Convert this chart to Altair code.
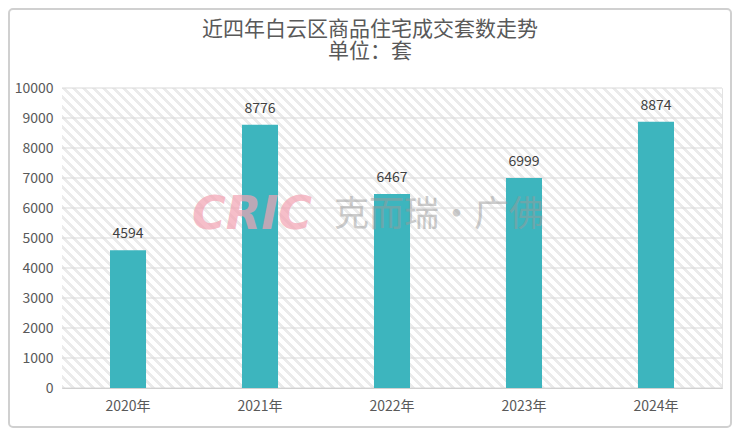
import altair as alt
import pandas as pd

years = ["2020年", "2021年", "2022年", "2023年", "2024年"]
deals = [4594, 8776, 6467, 6999, 8874]
y_ticks = [0, 1000, 2000, 3000, 4000, 5000, 6000, 7000, 8000, 9000, 10000]
title_lines = ["近四年白云区商品住宅成交套数走势", "单位：套"]
wm_logo = "CRIC"
wm_text = "克而瑞·广佛"

W, H = 660, 300
FONT = "Noto Sans CJK SC"

df = pd.DataFrame({"year": years, "deals": deals})
ticks_df = pd.DataFrame({"t": y_ticks})

# diagonal hatch background via hard-stop linear gradient
stops = []
period = 0.01041
n = int(1 / period) + 2
gray, white = "#ebebeb", "#ffffff"
for i in range(n):
    a = i * period
    b = a + period * 0.38
    c = a + period
    stops += [
        alt.GradientStop(offset=min(a, 1), color=gray),
        alt.GradientStop(offset=min(b, 1), color=gray),
        alt.GradientStop(offset=min(b, 1), color=white),
        alt.GradientStop(offset=min(c, 1), color=white),
    ]
grad = alt.LinearGradient(gradient="linear", stops=stops,
                          x1=0, y1=1, x2=1.2055, y2=0.452)

one = alt.Data(values=[{}])

hatch = alt.Chart(one).mark_rect(fill=grad).encode(
    x=alt.value(0), x2=alt.value(W), y=alt.value(0), y2=alt.value(H)
)

yscale = alt.Scale(domain=[0, 10000], nice=False)
yaxis = alt.Axis(values=y_ticks, grid=False, domain=False, ticks=False,
                 labelFont=FONT, labelFontSize=14, labelColor="#595959",
                 labelPadding=9, format="d", labelOverlap=False, tickCount=11)
xenc = alt.X("year:N", sort=years, title=None,
             scale=alt.Scale(paddingInner=0.727, paddingOuter=0.3636),
             axis=alt.Axis(labelAngle=0, ticks=False, domainColor="#c8c8c8",
                           domainWidth=1, labelFont=FONT, labelFontSize=14,
                           labelColor="#595959", labelPadding=11))

grid = alt.Chart(ticks_df).mark_rule(color="#d9d9d9", strokeWidth=1).encode(
    y=alt.Y("t:Q", scale=yscale, axis=yaxis, title=None)
)

bars = alt.Chart(df).mark_bar(color="#3db5be").encode(
    x=xenc,
    y=alt.Y("deals:Q", scale=yscale, title=None, axis=yaxis),
)

labels = alt.Chart(df).mark_text(font=FONT, fontSize=14, color="#404040",
                                 dy=-16).encode(
    x=alt.X("year:N", sort=years), y=alt.Y("deals:Q", scale=yscale),
    text=alt.Text("deals:Q", format="d")
)

wm1 = alt.Chart(one).mark_text(text=wm_logo, font="DejaVu Sans", fontWeight="bold",
                               fontStyle="italic", fontSize=46, color="#f3a3b3",
                               opacity=0.7, align="left", baseline="middle").encode(
    x=alt.value(130), y=alt.value(127)
)
wm2 = alt.Chart(one).mark_text(text=wm_text, font=FONT, fontSize=35, color="#9a9a9a",
                               opacity=0.5, align="left", baseline="middle").encode(
    x=alt.value(272), y=alt.value(127)
)

frame = alt.Chart(one).mark_rect(fill=None, stroke="#d0d0d0", strokeWidth=2,
                                 cornerRadius=4).encode(
    x=alt.value(-53), x2=alt.value(669), y=alt.value(-79), y2=alt.value(339)
)

chart = alt.layer(hatch, grid, bars, labels, wm1, wm2, frame).properties(
    width=W, height=H,
    autosize=alt.AutoSizeParams(type="none"),
    padding={"left": 54, "top": 80, "right": 10, "bottom": 40},
    title=alt.TitleParams(text=title_lines, font=FONT, fontSize=21, fontWeight="normal",
                          color="#595959", anchor="middle", dx=-22, offset=-54,
                          lineHeight=22, frame="group"),
).configure_view(stroke="#e3e3e3", strokeWidth=1
).configure_axisY(labelOverlap=False)

chart.save("out.html", embed_options={"renderer": "svg", "actions": False})
